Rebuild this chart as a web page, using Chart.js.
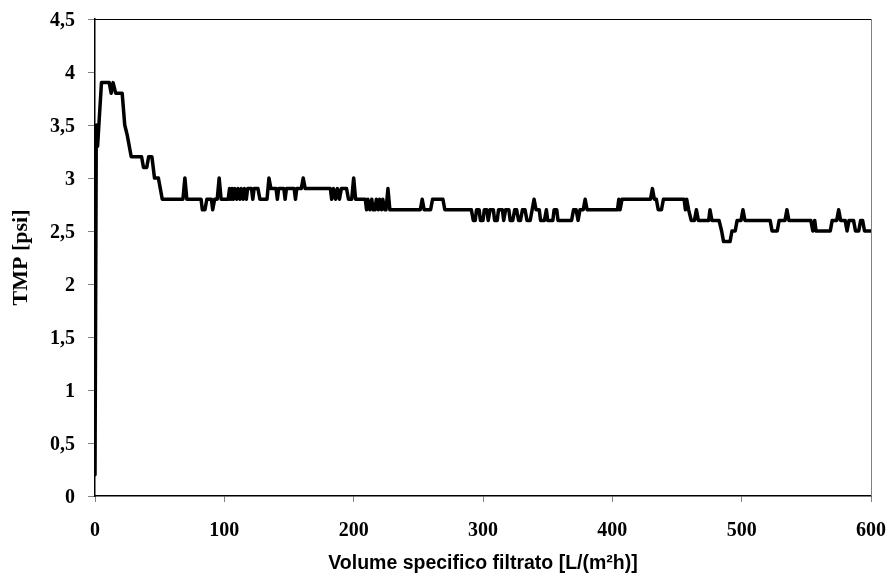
<!DOCTYPE html>
<html>
<head>
<meta charset="utf-8">
<script src="https://cdn.jsdelivr.net/npm/chart.js@4/dist/chart.umd.min.js"></script>
<style>
  html, body { margin: 0; padding: 0; background: #fff; }
  canvas { display: block; }
</style>
</head>
<body>
<canvas id="tmpChart" width="889" height="581"></canvas>
<script>
// volume specifico filtrato [L/(m2h)] and TMP [psi]
const volume = [
  0, 1, 2, 3, 5, 11, 12.5, 14, 16, 21, 23, 25, 28, 36, 37.5, 40, 41.5, 44, 46, 49, 50.5, 52,
  68, 69.5, 71, 82, 83, 85, 86.5, 90, 91, 92.5, 94.5, 96, 97.5, 103,
  104, 105, 106, 107, 108, 109.5, 110.5, 112, 113, 114.5, 115.5, 117, 118, 121, 122, 123, 126, 127.5,
  133, 134.5, 136, 140, 141, 142, 146, 147, 148, 154, 155, 156, 159.5, 161, 162.5, 182,
  183, 184.5, 186, 187.5, 189, 190.5, 194.5, 196, 198.5, 200, 201.5, 209,
  210, 211, 212.5, 214, 215, 216.5, 217.5, 219, 220, 221.5, 222.5, 224, 225, 226.5, 228,
  251.5, 253, 254.5, 259.5, 261, 269, 270.5, 291,
  292.5, 294, 295, 297, 298, 300, 301, 303, 304, 305.5, 308, 309, 311, 312, 315, 316, 317.5, 320,
  321, 323, 324.5, 326, 327.5, 329, 330.5, 332.5, 334, 336.5, 338, 339.5, 341, 343.5, 344.5,
  347.5, 349, 350, 354, 355, 357, 358, 368.5, 370, 372, 373.5, 375, 377.5, 379, 380.5,
  404, 405, 406, 407.5, 429.5, 431, 432.5, 434, 435.5, 438, 439.5, 455.5, 456.5, 457.5, 459,
  461, 463.5, 465, 466.5, 474.5, 475.5, 477, 482.5, 484.5, 486, 491, 492.5, 495, 496.5, 499.5,
  501, 502.5, 522, 523.5, 527.5, 529, 533.5, 535, 536.5, 553.5, 555, 556.5, 557.5, 568.5, 570,
  573.5, 575, 576.5, 580, 581.5, 583, 586.5, 588, 590.5, 592, 593.5, 595, 600
];
const tmp = [
  0.2, 3.5, 3.3, 3.5, 3.9, 3.9, 3.8, 3.9, 3.8, 3.8, 3.5, 3.4, 3.2, 3.2, 3.1, 3.1, 3.2, 3.2, 3.0, 3.0, 2.9, 2.8,
  2.8, 3.0, 2.8, 2.8, 2.7, 2.7, 2.8, 2.8, 2.7, 2.8, 2.8, 3.0, 2.8, 2.8,
  2.9, 2.8, 2.9, 2.8, 2.9, 2.8, 2.9, 2.8, 2.9, 2.8, 2.9, 2.8, 2.9, 2.9, 2.8, 2.9, 2.9, 2.8,
  2.8, 3.0, 2.9, 2.9, 2.8, 2.9, 2.9, 2.8, 2.9, 2.9, 2.8, 2.9, 2.9, 3.0, 2.9, 2.9,
  2.8, 2.9, 2.8, 2.9, 2.8, 2.9, 2.9, 2.8, 2.8, 3.0, 2.8, 2.8,
  2.7, 2.8, 2.7, 2.8, 2.7, 2.7, 2.8, 2.7, 2.8, 2.7, 2.8, 2.7, 2.7, 2.9, 2.7,
  2.7, 2.8, 2.7, 2.7, 2.8, 2.8, 2.7, 2.7,
  2.6, 2.6, 2.7, 2.7, 2.6, 2.6, 2.7, 2.7, 2.6, 2.7, 2.7, 2.6, 2.6, 2.7, 2.7, 2.6, 2.7, 2.7,
  2.6, 2.6, 2.7, 2.7, 2.6, 2.6, 2.7, 2.7, 2.6, 2.6, 2.7, 2.8, 2.7, 2.7, 2.6,
  2.6, 2.7, 2.6, 2.6, 2.7, 2.7, 2.6, 2.6, 2.7, 2.7, 2.6, 2.7, 2.7, 2.8, 2.7,
  2.7, 2.8, 2.7, 2.8, 2.8, 2.9, 2.8, 2.8, 2.7, 2.7, 2.8, 2.8, 2.7, 2.8, 2.7,
  2.6, 2.6, 2.7, 2.6, 2.6, 2.7, 2.6, 2.6, 2.5, 2.4, 2.4, 2.5, 2.5, 2.6, 2.6,
  2.7, 2.6, 2.6, 2.5, 2.5, 2.6, 2.6, 2.7, 2.6, 2.6, 2.5, 2.6, 2.5, 2.5, 2.6,
  2.6, 2.7, 2.6, 2.6, 2.5, 2.6, 2.6, 2.5, 2.5, 2.6, 2.6, 2.5, 2.5
];
const xTicks = [0, 100, 200, 300, 400, 500, 600];
const yTicks = [0, 0.5, 1, 1.5, 2, 2.5, 3, 3.5, 4, 4.5];

const tickFont = { family: '"Liberation Serif", "Times New Roman", serif', size: 20, weight: 'bold' };

// Excel-like box: top and right edges of the plot area
const plotFrame = {
  id: 'plotFrame',
  afterDraw(chart) {
    const { ctx, chartArea: a } = chart;
    ctx.save();
    ctx.lineWidth = 1;
    ctx.strokeStyle = '#000';
    ctx.beginPath();
    ctx.moveTo(a.left, a.top + 0.5);
    ctx.lineTo(a.right, a.top + 0.5);
    ctx.stroke();
    ctx.strokeStyle = '#808080';
    ctx.beginPath();
    ctx.moveTo(a.right + 0.5, a.top);
    ctx.lineTo(a.right + 0.5, a.bottom);
    ctx.stroke();
    ctx.restore();
  }
};

new Chart(document.getElementById('tmpChart'), {
  type: 'line',
  data: {
    datasets: [{
      data: volume.map((v, i) => ({ x: v, y: tmp[i] })),
      borderColor: '#000',
      borderWidth: 3.5,
      borderJoinStyle: 'round',
      borderCapStyle: 'round',
      pointRadius: 0,
      tension: 0,
      fill: false,
    }],
  },
  options: {
    responsive: false,
    animation: false,
    layout: { padding: { top: 19, right: 18, left: 0, bottom: 0 } },
    plugins: { legend: { display: false }, tooltip: { enabled: false } },
    scales: {
      x: {
        type: 'linear',
        min: 0,
        max: 600,
        afterBuildTicks: (s) => { s.ticks = xTicks.map((v) => ({ value: v })); },
        afterFit: (s) => { s.height = 85; s.paddingLeft = 0; s.paddingRight = 0; },
        ticks: { font: tickFont, color: '#000', padding: 17, maxRotation: 0 },
        grid: { drawOnChartArea: false, drawTicks: true, tickLength: 6, color: '#808080' },
        border: { color: '#000', width: 1.5 },
        title: {
          display: true,
          text: 'Volume specifico filtrato [L/(m²h)]',
          color: '#000',
          font: { family: '"Liberation Sans Narrow", "Arial Narrow", sans-serif', size: 19.5, weight: 'bold' },
          padding: { top: 0, bottom: 6 },
        },
      },
      y: {
        min: 0,
        max: 4.5,
        afterBuildTicks: (s) => { s.ticks = yTicks.map((v) => ({ value: v })); },
        afterFit: (s) => { s.width = 95; s.paddingTop = 0; s.paddingBottom = 0; },
        ticks: {
          font: tickFont,
          color: '#000',
          padding: 13,
          labelOffset: 2,
          callback: (v) => String(v).replace('.', ','),
        },
        grid: { drawOnChartArea: false, drawTicks: true, tickLength: 7, color: '#808080' },
        border: { color: '#000', width: 1.5 },
        title: {
          display: true,
          text: 'TMP [psi]',
          color: '#000',
          font: { family: '"Liberation Serif", "Times New Roman", serif', size: 22, weight: 'bold' },
          padding: { top: 8, bottom: 0 },
        },
      },
    },
  },
  plugins: [plotFrame],
});
</script>
</body>
</html>
